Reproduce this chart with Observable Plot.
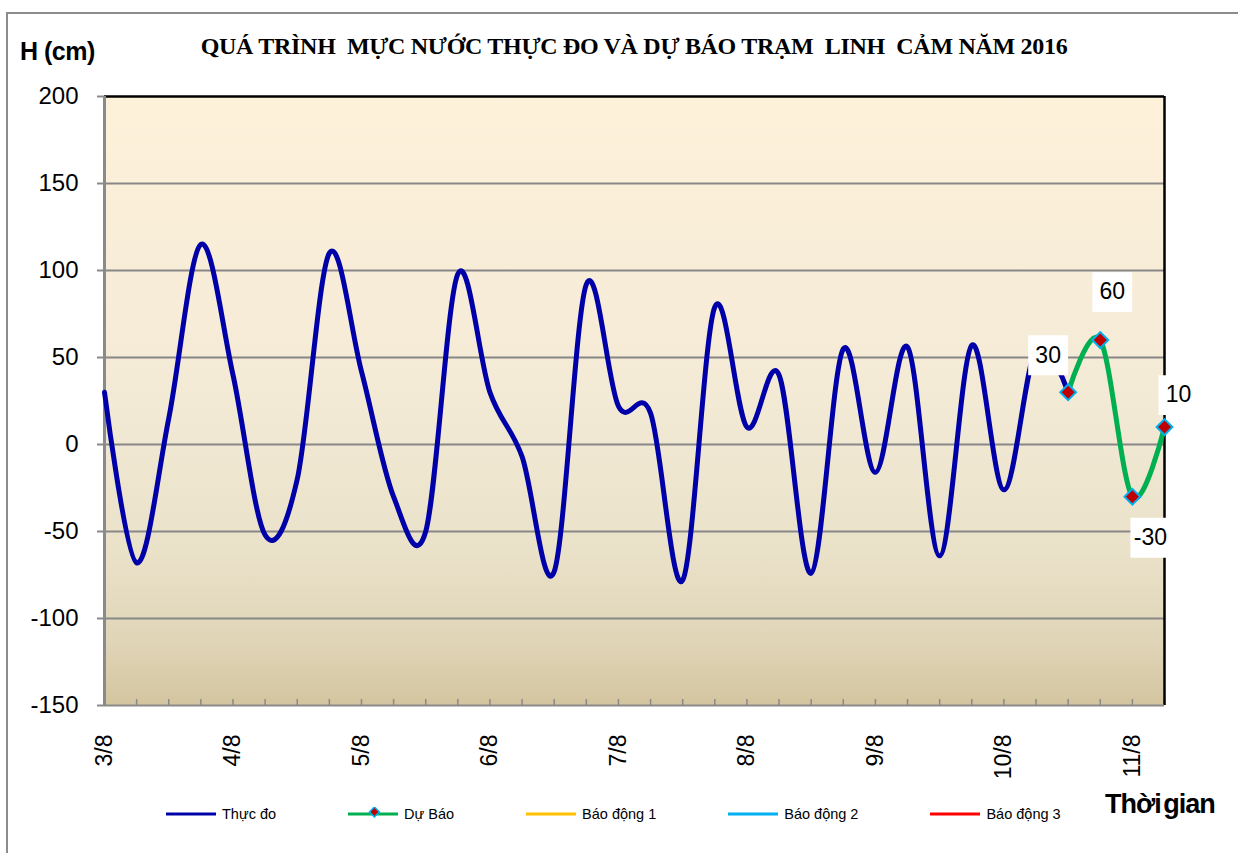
<!DOCTYPE html>
<html>
<head>
<meta charset="utf-8">
<script src="https://cdn.jsdelivr.net/npm/d3@7"></script>
<script src="https://cdn.jsdelivr.net/npm/@observablehq/plot@0.6"></script>
<style>
  body { margin: 0; background: #fff; }
  #wrap { position: relative; width: 1238px; height: 853px; overflow: hidden; font-family: "Liberation Sans", Arial, sans-serif; }
  #outer { position: absolute; left: 6px; top: 12px; width: 1400px; height: 1000px; border-left: 2px solid #8c8c8c; border-top: 2px solid #8c8c8c; }
  #chart { position: absolute; left: 0; top: 0; }
  #title { position: absolute; left: 0; width: 1268px; top: 33px; text-align: center; white-space: pre;
           font: bold 24px "Liberation Serif", "Times New Roman", serif; color: #000; letter-spacing: -0.3px; }
  #ylab { position: absolute; left: 20px; top: 37px; font: bold 25px "Liberation Sans", Arial, sans-serif; color: #000; letter-spacing: -0.5px; }
  #xlab { position: absolute; left: 1105px; top: 789px; font: bold 27px "Liberation Sans", Arial, sans-serif; color: #000; letter-spacing: -1px; word-spacing: -4px; }
  #legend { position: absolute; left: 166px; top: 806px; display: flex; gap: 72px; align-items: center; font-size: 14.5px; color: #000; }
  .item { display: flex; align-items: center; gap: 6px; }
</style>
</head>
<body>
<svg width="0" height="0" style="position:absolute">
  <defs>
    <linearGradient id="bg" x1="0" y1="0" x2="0" y2="1">
      <stop offset="0" stop-color="#fef1da"/>
      <stop offset="0.5" stop-color="#f3ead6"/>
      <stop offset="0.75" stop-color="#eae1c9"/>
      <stop offset="0.9" stop-color="#dfd4b6"/>
      <stop offset="1" stop-color="#d3c59f"/>
    </linearGradient>
  </defs>
</svg>
<div id="wrap">
  <div id="outer"></div>
  <div id="chart"></div>
  <div id="title">QUÁ TRÌNH  MỰC NƯỚC THỰC ĐO VÀ DỰ BÁO TRẠM  LINH  CẢM NĂM 2016</div>
  <div id="ylab">H (cm)</div>
  <div id="xlab">Thời gian</div>
  <div id="legend"></div>
</div>
<script>
// ---- data ----
const dayLabels = ["3/8", "4/8", "5/8", "6/8", "7/8", "8/8", "9/8", "10/8", "11/8"];
const slotsPerDay = 4;
const observed = [30, -68, 15, 115, 40, -52, -20, 110, 42, -30, -50, 98, 30, -7, -73, 92,
                  22, 18, -78, 79, 10, 40, -74, 55, -16, 56, -64, 57, -26, 55, 30];
const forecast = [30, 60, -30, 10];
const yTicks = [-150, -100, -50, 0, 50, 100, 150, 200];
const seriesNames = ["Thực đo", "Dự Báo", "Báo động 1", "Báo động 2", "Báo động 3"];
const seriesColors = ["#0000a8", "#00b050", "#ffc000", "#00b0f0", "#ff0000"];

// ---- tables ----
const obsData = observed.map((v, i) => ({i, v}));
const start = observed.length - 1;
const fcData = forecast.map((v, k) => ({i: start + k, v, k}));
const nCat = observed.length + forecast.length - 1;
const cats = d3.range(nCat);
const labelIdx = cats.filter(i => i % slotsPerDay === 0);

const W = 1238, H = 853, mL = 104, mR = 74, mT = 96, mB = 148;
const innerH = H - mT - mB;

const yMin = d3.min(yTicks), yMax = d3.max(yTicks);
const lab = (k, dx, dy) => [
  Plot.dot(fcData.filter(d => d.k === k), {x: "i", y: "v", dx, dy, symbol: "square", r: 22.5, fill: "white"}),
  Plot.text(fcData.filter(d => d.k === k), {x: "i", y: "v", dx, dy, text: d => String(d.v), fontSize: 23, fill: "#000"})
];

const chart = Plot.plot({
  width: W, height: H,
  marginLeft: mL, marginRight: mR, marginTop: mT, marginBottom: mB,
  style: {fontFamily: "'Liberation Sans', Arial, sans-serif", background: "transparent", overflow: "visible"},
  x: {domain: [0, nCat - 1], axis: null},
  y: {domain: [yMin, yMax], axis: null},
  marks: [
    Plot.frame({fill: "url(#bg)", stroke: null}),
    Plot.gridY(yTicks.filter(t => t > yMin && t < yMax), {stroke: "#878787", strokeOpacity: 1, strokeWidth: 2}),
    Plot.tickX(cats, {x: d => d, insetTop: innerH - 6, stroke: "#8a8a8a", strokeWidth: 1.5}),
    Plot.ruleY([yMax], {stroke: "#000", strokeWidth: 2.5}),
    Plot.ruleX([nCat - 1], {stroke: "#000", strokeWidth: 2.5}),
    Plot.ruleY([yMin], {stroke: "#8a8a8a", strokeWidth: 2}),
    Plot.ruleX([0], {stroke: "#8a8a8a", strokeWidth: 3}),
    Plot.axisY({ticks: yTicks, label: null, tickSize: 7, tickPadding: 19, fontSize: 24, stroke: "#8a8a8a", strokeWidth: 2, fill: "#000", tickFormat: d => String(d)}),
    Plot.axisX({ticks: labelIdx, label: null, tickSize: 0, tickPadding: 29, tickRotate: -90, fontSize: 23, fill: "#000",
                tickFormat: i => dayLabels[i / slotsPerDay]}),
    Plot.line(obsData, {x: "i", y: "v", curve: "cardinal", stroke: seriesColors[0], strokeWidth: 5}),
    Plot.line(fcData, {x: "i", y: "v", curve: "cardinal", stroke: seriesColors[1], strokeWidth: 5}),
    Plot.dot(fcData, {x: "i", y: "v", symbol: "square", rotate: 45, r: 6.3, fill: "#c00000", stroke: "#00b0f0", strokeWidth: 2}),
    ...lab(0, -20, -37),
    ...lab(1, 12, -48),
    ...lab(2, 18, 41),
    ...lab(3, 14, -32)
  ]
});
document.getElementById("chart").appendChild(chart);

// ---- legend ----
const legend = document.getElementById("legend");
seriesNames.forEach((name, j) => {
  const item = document.createElement("div");
  item.className = "item";
  const marker = j === 1
    ? `<rect x="21" y="1" width="7" height="7" transform="rotate(45 25 7)" fill="#c00000" stroke="#00b0f0" stroke-width="1.5"/>`
    : "";
  item.innerHTML = `<svg width="50" height="14"><line x1="0" x2="50" y1="7" y2="7" stroke="${seriesColors[j]}" stroke-width="3"/>${marker}</svg><span>${name}</span>`;
  legend.appendChild(item);
});
</script>
</body>
</html>
